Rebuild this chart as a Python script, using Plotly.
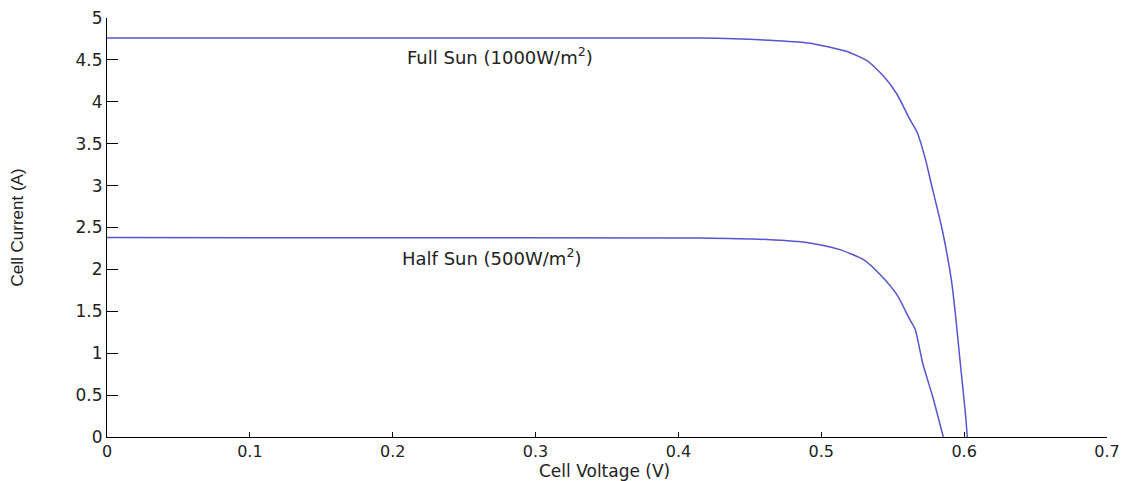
import plotly.graph_objects as go

# Full sun (1000 W/m^2) I-V curve
full_v = [0.0, 0.415, 0.469, 0.492, 0.518, 0.532, 0.5434, 0.553, 0.562, 0.567, 0.573,
          0.5763, 0.5847, 0.591, 0.5938, 0.5973, 0.6009, 0.6022]
full_i = [4.76, 4.76, 4.73, 4.70, 4.60, 4.49, 4.31, 4.09, 3.79, 3.64, 3.31,
          3.07, 2.47, 1.88, 1.48, 0.88, 0.28, 0.0]

# Half sun (500 W/m^2) I-V curve
half_v = [0.0, 0.415, 0.462, 0.492, 0.513, 0.5295, 0.5413, 0.553, 0.562, 0.5658,
          0.571, 0.578, 0.5854]
half_i = [2.38, 2.376, 2.356, 2.316, 2.236, 2.116, 1.936, 1.696, 1.40, 1.28,
          0.88, 0.48, 0.0]

x_ticks = [0, 0.1, 0.2, 0.3, 0.4, 0.5, 0.6, 0.7]
x_labels = ["0", "0.1", "0.2", "0.3", "0.4", "0.5", "0.6", "0.7"]
y_ticks = [0, 0.5, 1, 1.5, 2, 2.5, 3, 3.5, 4, 4.5, 5]
y_labels = ["0", "0.5", "1", "1.5", "2", "2.5", "3", "3.5", "4", "4.5", "5"]

line_color = "rgb(85,85,210)"

fig = go.Figure()
fig.add_trace(go.Scatter(x=full_v, y=full_i, mode="lines",
                         line=dict(color=line_color, width=1.5, shape="spline", smoothing=0.6),
                         showlegend=False))
fig.add_trace(go.Scatter(x=half_v, y=half_i, mode="lines",
                         line=dict(color=line_color, width=1.5, shape="spline", smoothing=0.6),
                         showlegend=False))

label_font = dict(family="DejaVu Sans", size=18, color="#222222")
fig.add_annotation(x=0.275, y=4.55, text="Full Sun (1000W/m<sup>2</sup>)",
                   showarrow=False, font=label_font, xanchor="center", yanchor="middle")
fig.add_annotation(x=0.269, y=2.15, text="Half Sun (500W/m<sup>2</sup>)",
                   showarrow=False, font=label_font, xanchor="center", yanchor="middle")

# Axis titles as annotations to keep the plot area fixed
fig.add_annotation(x=0.497, y=-0.081, xref="paper", yref="paper",
                   text="Cell Voltage (V)", showarrow=False,
                   font=dict(family="DejaVu Sans", size=17, color="#222222"),
                   xanchor="center", yanchor="middle")
fig.add_annotation(x=-0.09, y=0.5, xref="paper", yref="paper",
                   text="Cell Current (A)", showarrow=False, textangle=-90,
                   font=dict(family="Liberation Sans Narrow, Liberation Sans", size=17, color="#222222"),
                   xanchor="center", yanchor="middle")

fig.update_layout(
    width=1129, height=481,
    margin=dict(l=107, r=22, t=18, b=44, autoexpand=False),
    paper_bgcolor="white", plot_bgcolor="white",
    font=dict(family="DejaVu Sans", size=15, color="#222222"),
)
fig.update_xaxes(
    range=[0, 0.7], tickvals=x_ticks, ticktext=x_labels, automargin=False,
    showgrid=False, zeroline=False, showline=True, linecolor="black", linewidth=1,
    ticks="inside", ticklen=5, tickcolor="black",
    tickfont=dict(family="DejaVu Sans", size=16),
)
fig.update_yaxes(
    range=[0, 5], tickvals=y_ticks, ticktext=y_labels, automargin=False,
    showgrid=False, zeroline=False, showline=True, linecolor="black", linewidth=1,
    ticks="inside", ticklen=11, tickcolor="black",
    tickfont=dict(family="DejaVu Sans", size=17),
)

fig.write_html("out.html", config={"displayModeBar": False},
               post_script="document.body.style.margin='0';document.body.style.overflow='hidden';")
